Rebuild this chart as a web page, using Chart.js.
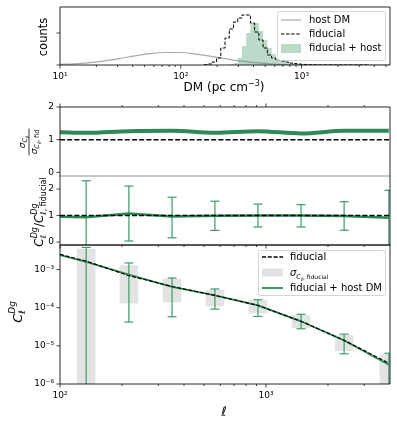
<!DOCTYPE html>
<html><head><meta charset="utf-8">
<script src="https://cdn.jsdelivr.net/npm/chart.js@4.4.1/dist/chart.umd.min.js"></script>
<style>
html,body{margin:0;padding:0;background:#fff;overflow:hidden;}
#wrap{position:relative;width:397px;height:427px;}
#wrap canvas{position:absolute;left:0;top:0;}
</style></head><body>
<div id="wrap">
<canvas id="c1" width="397" height="427"></canvas>
<canvas id="c2" width="397" height="427"></canvas>
<canvas id="c3" width="397" height="427"></canvas>
<canvas id="c4" width="397" height="427"></canvas>
</div>
<script>
// ---------------- DATA ----------------
// Panel 1: DM histograms (bin edges in pc cm^-3, counts in arbitrary units)
const dmEdges = [155.5, 168.5, 182.7, 198.0, 214.6, 232.6, 252.1, 273.3, 296.2, 321.1, 348.0, 377.2, 408.9, 443.2, 480.4, 520.7, 564.4, 611.8, 663.1, 718.8, 779.1, 844.5, 915.4, 992.4, 1075.7, 1166, 1264, 1370];
const fiducialCounts = [0.3, 1, 3, 7, 17, 27, 36, 43, 47, 50, 50, 42, 33, 25, 17, 10, 7, 5, 4, 3, 2, 1.5, 1, 0.6, 0.4, 0.2, 0.1];
const fidHostCounts  = [0, 0, 0, 0, 0, 0.3, 0.8, 2, 7, 19, 32, 42, 42, 34, 25, 17, 11, 6, 4, 3, 2, 1.5, 1, 0.6, 0.4, 0.2, 0.1];
const dmHistEnd = 3500;
const hostDmValues = [10, 13.3, 17.7, 23.6, 31.3, 41.7, 55.5, 73.8, 98, 130, 174, 231, 308, 409, 545, 725, 962, 1700, 5400];
const hostDmCounts = [0.6, 1.2, 2.4, 4.2, 6.5, 9.1, 11.3, 12.5, 12.5, 11.2, 8.9, 6.4, 4.1, 2.3, 1.2, 0.5, 0.2, 0.05, 0];
const dmTicks = [10, 100, 1000];
const countTicks = [0, 32];

// Panels 2-4: multipoles
const ellRange = [100, 4000];
const ellLine = [100, 134, 216, 350, 565, 914, 1480, 2395, 3950];
const sigmaRatio = [1.23, 1.21, 1.26, 1.27, 1.21, 1.26, 1.19, 1.27, 1.27];
const clRatio = [0.95, 0.94, 1.08, 0.96, 0.99, 1.00, 1.00, 0.98, 0.92];
const clFiducial = [2.5e-3, 1.66e-3, 6.9e-4, 3.6e-4, 2.1e-4, 1.15e-4, 4.4e-5, 1.4e-5, 3.5e-6];
const clFidHost = [2.38e-3, 1.58e-3, 7.4e-4, 3.5e-4, 2.1e-4, 1.15e-4, 4.4e-5, 1.38e-5, 3.2e-6];

const ellBins = [134, 216, 350, 565, 914, 1480, 2395, 3950];
const ratioErrLo = [-1, 0.04, 0.16, 0.44, 0.57, 0.57, 0.45, -1];
const ratioErrHi = [2.31, 2.11, 1.69, 1.54, 1.43, 1.41, 1.52, 1.95];
const clErrLo = [1e-8, 4.2e-5, 5.8e-5, 9.2e-5, 5.9e-5, 2.8e-5, 6.2e-6, 1e-8];
const clErrHi = [3.8e-3, 1.49e-3, 6.0e-4, 3.1e-4, 1.62e-4, 6.7e-5, 2.02e-5, 6.4e-6];
const sigmaBoxLo = [1e-8, 1.32e-4, 1.40e-4, 1.10e-4, 7.2e-5, 2.98e-5, 7.5e-6, 1e-8];
const sigmaBoxHi = [3.42e-3, 1.27e-3, 5.66e-4, 2.85e-4, 1.56e-4, 6.27e-5, 1.87e-5, 5.9e-6];

const ellTicks = [100, 1000];
const ratioTicks = [0, 1, 2];
const clTicks = [1e-6, 1e-5, 1e-4, 1e-3];

// ---------------- LAYOUT / STYLE ----------------
const W = 397, H = 427, LEFT = 60, RIGHT = 390;
const P1 = {top: 7, bottom: 65}, P2 = {top: 107, bottom: 176}, P3 = {top: 176, bottom: 245}, P4 = {top: 245, bottom: 384};
const FONT = '"DejaVu Sans", sans-serif';
const GREEN = '#2e8b57';
const GREEN_ERR = '#3d9b6b';
const HIST_FILL = 'rgba(46,139,87,0.32)';
const BOX_GRAY = '#e3e3e3';

const SUP = {'-':'⁻','0':'⁰','1':'¹','2':'²','3':'³','4':'⁴','5':'⁵','6':'⁶','7':'⁷','8':'⁸','9':'⁹'};
function pow10Label(v) {
  const e = Math.round(Math.log10(v));
  return '10' + String(e).split('').map(c => SUP[c]).join('');
}
function logMinors(min, max) {
  const out = [];
  for (let e = Math.floor(Math.log10(min)); e <= Math.ceil(Math.log10(max)); e++)
    for (let m = 2; m <= 9; m++) { const v = m * Math.pow(10, e); if (v > min && v < max) out.push(v); }
  return out;
}
function stepPoints(edges, counts, end) {
  const pts = counts.map((c, i) => ({x: edges[i], y: c}));
  pts.push({x: edges[edges.length - 1], y: 0});
  pts.push({x: end, y: 0});
  return pts;
}
function errPoints(xs, lo, hi) {
  const pts = [];
  xs.forEach((x, i) => { pts.push({x, y: lo[i]}); pts.push({x, y: hi[i]}); pts.push({x, y: null}); });
  return pts;
}
function fnt(p) { return (p.italic ? 'italic ' : '') + p.size + 'px ' + FONT; }
function drawRich(ctx, parts, x, y, rot, align) {
  ctx.save();
  ctx.translate(x, y);
  if (rot) ctx.rotate(rot);
  ctx.textBaseline = 'alphabetic';
  ctx.textAlign = 'left';
  let cursor = 0, prevStart = 0;
  const starts = [];
  for (const p of parts) {
    ctx.font = fnt(p);
    const w = ctx.measureText(p.t).width;
    const s = p.back ? prevStart : cursor;
    starts.push(s);
    cursor = Math.max(cursor, s + w);
    prevStart = s;
  }
  const off = align === 'center' ? -cursor / 2 : (align === 'right' ? -cursor : 0);
  parts.forEach((p, i) => { ctx.font = fnt(p); ctx.fillStyle = p.color || '#000'; ctx.fillText(p.t, off + starts[i], p.dy || 0); });
  ctx.restore();
  return cursor;
}
function seg(ctx, x1, y1, x2, y2, c, w, dash) {
  ctx.save();
  ctx.strokeStyle = c; ctx.lineWidth = w || 0.9;
  ctx.setLineDash(dash || []);
  ctx.beginPath(); ctx.moveTo(x1, y1); ctx.lineTo(x2, y2); ctx.stroke();
  ctx.restore();
}
function legendBox(ctx, x, y, w, h) {
  ctx.save();
  ctx.beginPath();
  if (ctx.roundRect) ctx.roundRect(x, y, w, h, 2); else ctx.rect(x, y, w, h);
  ctx.fillStyle = 'rgba(255,255,255,0.8)'; ctx.fill();
  ctx.strokeStyle = '#d0d0d0'; ctx.lineWidth = 0.9; ctx.stroke();
  ctx.restore();
}
function text(ctx, t, x, y, size, align) {
  ctx.save(); ctx.font = size + 'px ' + FONT; ctx.fillStyle = '#000';
  ctx.textAlign = align || 'left'; ctx.textBaseline = 'middle'; ctx.fillText(t, x, y); ctx.restore();
}

// ---------------- DECORATION PLUGIN (frames, tick marks, labels, legends) ----------------
const DECOR = {
  c1: {
    frame: {top: '#111', bottom: '#111', left: '#111', right: '#111'},
    xTicks: {side: 'bottom', major: dmTicks, minor: logMinors(10, 5400)},
    yTicks: countTicks,
    extra(ctx) {
      drawRich(ctx, [{t: 'counts', size: 11.5}], 47, 37, -Math.PI / 2, 'center');
      drawRich(ctx, [{t: 'DM (pc cm', size: 12}, {t: '−3', size: 8, dy: -5}, {t: ')', size: 12}], 224, 91, 0, 'center');
      legendBox(ctx, 277.5, 11.5, 108, 49);
      seg(ctx, 281, 20, 301, 20, 'rgba(140,140,140,0.75)', 1.2);
      text(ctx, 'host DM', 309, 20, 10);
      seg(ctx, 281, 34, 301, 34, '#000', 1, [3.5, 1.6]);
      text(ctx, 'fiducial', 309, 34, 10);
      ctx.fillStyle = HIST_FILL; ctx.fillRect(281, 44, 20, 9);
      text(ctx, 'fiducial + host', 309, 48.5, 10);
    }
  },
  c2: {
    frame: {top: '#111', bottom: '#888', left: '#111', right: '#111'},
    xTicks: {side: 'top', major: ellTicks, minor: logMinors(100, 4000)},
    yTicks: ratioTicks,
    extra(ctx) {
      ctx.save();
      ctx.translate(29, 142); ctx.rotate(-Math.PI / 2);
      const num = [{t: 'σ', size: 9, italic: true}, {t: 'C', size: 6.5, italic: true, dy: 2}, {t: 'ℓ', size: 5, dy: 4}];
      const den = [{t: 'σ', size: 9, italic: true}, {t: 'C', size: 6.5, italic: true, dy: 2}, {t: 'ℓ', size: 5, dy: 4}, {t: ', fid', size: 6.5, dy: 2}];
      drawRich(ctx, num, 0, -4, 0, 'center');
      const w = drawRich(ctx, den, 0, 8, 0, 'center');
      seg(ctx, -w / 2 - 1, 0, w / 2 + 1, 0, '#000', 0.8);
      ctx.restore();
    }
  },
  c3: {
    frame: {top: null, bottom: '#111', left: '#111', right: '#111'},
    xTicks: {side: 'bottom', major: ellTicks, minor: logMinors(100, 4000)},
    yTicks: ratioTicks,
    extra(ctx) {
      drawRich(ctx, [
        {t: 'C', size: 12, italic: true}, {t: 'Dg', size: 8, italic: true, dy: -6.5}, {t: 'ℓ', size: 8, dy: 3, back: true},
        {t: '/', size: 12},
        {t: 'C', size: 12, italic: true}, {t: 'Dg', size: 8, italic: true, dy: -6.5}, {t: 'ℓ, fiducial', size: 8, dy: 3, back: true}
      ], 43, 212, -Math.PI / 2, 'center');
    }
  },
  c4: {
    frame: {top: '#111', bottom: '#111', left: '#111', right: '#111'},
    xTicks: {side: 'bottom', major: ellTicks, minor: logMinors(100, 4000)},
    yTicks: clTicks,
    extra(ctx) {
      drawRich(ctx, [{t: 'C', size: 13, italic: true}, {t: 'Dg', size: 9, italic: true, dy: -7}, {t: 'ℓ', size: 9, dy: 3, back: true}], 22, 312, -Math.PI / 2, 'center');
      drawRich(ctx, [{t: 'ℓ', size: 13, italic: true}], 224, 416, 0, 'center');
      legendBox(ctx, 258.5, 250.5, 127, 45);
      seg(ctx, 262, 257, 283, 257, '#000', 1.3, [4, 1.8]);
      text(ctx, 'fiducial', 290, 257, 10);
      ctx.fillStyle = BOX_GRAY; ctx.fillRect(262, 268.5, 21, 8);
      drawRich(ctx, [{t: 'σ', size: 10, italic: true}, {t: 'C', size: 6.5, italic: true, dy: 3}, {t: 'ℓ', size: 5, dy: 5}, {t: ', fiducial', size: 6, dy: 3}], 290, 276, 0, 'left');
      seg(ctx, 262, 288, 283, 288, GREEN, 1.8);
      text(ctx, 'fiducial + host DM', 290, 288, 10);
    }
  }
};

Chart.register({
  id: 'decor',
  afterDraw(chart) {
    const o = DECOR[chart.canvas.id];
    if (!o) return;
    const ctx = chart.ctx, a = chart.chartArea;
    const L = a.left, R = a.right, T = a.top, B = a.bottom;
    const xs = chart.scales.x, ys = chart.scales.y;
    ctx.save();
    if (o.xTicks) {
      const t = o.xTicks, y0 = t.side === 'top' ? T : B, dir = t.side === 'top' ? -1 : 1;
      const d = (v, len) => { const px = xs.getPixelForValue(v); seg(ctx, px, y0, px, y0 + dir * len, '#111', 0.8); };
      t.major.forEach(v => d(v, 3.5));
      t.minor.forEach(v => d(v, 2));
    }
    if (o.yTicks) o.yTicks.forEach(v => { const py = ys.getPixelForValue(v); seg(ctx, L, py, L - 3.5, py, '#111', 0.8); });
    const f = o.frame;
    if (f.top) seg(ctx, L, T, R, T, f.top, 0.9);
    if (f.bottom) seg(ctx, L, B, R, B, f.bottom, 0.9);
    if (f.left) seg(ctx, L, T, L, B, f.left, 0.9);
    if (f.right) seg(ctx, R, T, R, B, f.right, 0.9);
    if (o.extra) o.extra(ctx, chart);
    ctx.restore();
  }
});

// ---------------- AXES ----------------
function xAxis(type, min, max, panelBottom, showLabels, tickVals) {
  return {
    type, min, max, bounds: 'data', position: 'bottom',
    grid: {display: false, drawTicks: true, tickLength: 4},
    border: {display: false},
    ticks: {display: showLabels, autoSkip: false, maxRotation: 0, padding: 2, color: '#000',
            font: {family: FONT, size: 9}, callback: v => pow10Label(v)},
    afterBuildTicks: s => { s.ticks = tickVals.map(v => ({value: v})); },
    afterFit: s => { s.height = H - panelBottom; }
  };
}
function yAxis(type, min, max, tickVals, labelFn) {
  return {
    type, min, max, bounds: 'data', position: 'left',
    grid: {display: false, drawTicks: true, tickLength: 4},
    border: {display: false},
    ticks: {display: !!labelFn, autoSkip: false, padding: 2, color: '#000',
            font: {family: FONT, size: 9}, callback: labelFn || (() => '')},
    afterBuildTicks: s => { s.ticks = tickVals.map(v => ({value: v})); },
    afterFit: s => { s.width = LEFT; }
  };
}
function opts(panel, scales) {
  return {
    responsive: false, maintainAspectRatio: false, animation: false, events: [],
    layout: {padding: {left: 0, right: W - RIGHT, top: panel.top, bottom: 0}},
    plugins: {legend: {display: false}, tooltip: {enabled: false}},
    scales
  };
}

// ---------------- CHARTS ----------------
new Chart(document.getElementById('c1'), {
  type: 'line',
  data: {datasets: [
    {data: hostDmValues.map((x, i) => ({x, y: hostDmCounts[i]})), borderColor: 'rgba(140,140,140,0.75)', borderWidth: 1.2,
     pointRadius: 0, cubicInterpolationMode: 'monotone', fill: false, order: 3, clip: 0},
    {data: stepPoints(dmEdges, fidHostCounts, dmHistEnd), borderWidth: 0, borderColor: 'rgba(0,0,0,0)', backgroundColor: HIST_FILL,
     fill: 'origin', stepped: 'before', pointRadius: 0, order: 2, clip: 0},
    {data: stepPoints(dmEdges, fiducialCounts, dmHistEnd), borderColor: '#000', borderWidth: 1, borderDash: [3.5, 1.6],
     stepped: 'before', pointRadius: 0, fill: false, order: 1, clip: 0}
  ]},
  options: opts(P1, {x: xAxis('logarithmic', 10, 5400, P1.bottom, true, dmTicks), y: yAxis('linear', 0, 58, countTicks, null)})
});

new Chart(document.getElementById('c2'), {
  type: 'line',
  data: {datasets: [
    {data: ellRange.map(x => ({x, y: 1})), borderColor: '#000', borderWidth: 1.5, borderDash: [5, 2.2], pointRadius: 0, order: 1, clip: 0},
    {data: ellLine.map((x, i) => ({x, y: sigmaRatio[i]})), borderColor: GREEN, borderWidth: 4, cubicInterpolationMode: 'monotone',
     pointRadius: 0, order: 2, clip: 0}
  ]},
  options: opts(P2, {x: xAxis('logarithmic', 100, 4000, P2.bottom, false, ellTicks), y: yAxis('linear', -0.11, 2, ratioTicks, v => String(v))})
});

new Chart(document.getElementById('c3'), {
  type: 'line',
  data: {datasets: [
    {data: ellRange.map(x => ({x, y: 1})), borderColor: '#000', borderWidth: 1.5, borderDash: [5, 2.2], pointRadius: 0, order: 1, clip: 0},
    {data: ellLine.map((x, i) => ({x, y: clRatio[i]})), borderColor: GREEN, borderWidth: 2.5, pointRadius: 0, order: 2, clip: 0},
    {data: errPoints(ellBins, ratioErrLo, ratioErrHi), borderColor: GREEN_ERR, borderWidth: 1.2, spanGaps: false,
     pointStyle: 'line', pointRadius: 4.5, pointBorderColor: GREEN_ERR, pointBorderWidth: 1.2, order: 3, clip: 0}
  ]},
  options: opts(P3, {x: xAxis('logarithmic', 100, 4000, P3.bottom, false, ellTicks), y: yAxis('linear', -0.11, 2.49, ratioTicks, v => String(v))})
});

new Chart(document.getElementById('c4'), {
  type: 'line',
  data: {datasets: [
    {type: 'bar', data: ellBins.map((x, i) => ({x, y: [sigmaBoxLo[i], sigmaBoxHi[i]]})), backgroundColor: BOX_GRAY, borderWidth: 0,
     barThickness: 18, grouped: false, order: 5, clip: 0},
    {data: errPoints(ellBins, clErrLo, clErrHi), borderColor: GREEN_ERR, borderWidth: 1.2, spanGaps: false,
     pointStyle: 'line', pointRadius: 4.5, pointBorderColor: GREEN_ERR, pointBorderWidth: 1.2, order: 4, clip: 0},
    {data: ellLine.map((x, i) => ({x, y: clFidHost[i]})), borderColor: GREEN, borderWidth: 1.8, pointRadius: 0, order: 3, clip: 0},
    {data: ellLine.map((x, i) => ({x, y: clFiducial[i]})), borderColor: '#000', borderWidth: 1.2, borderDash: [4, 1.8], pointRadius: 0, order: 2, clip: 0}
  ]},
  options: opts(P4, {x: xAxis('logarithmic', 100, 4000, P4.bottom, true, ellTicks), y: yAxis('logarithmic', 1e-6, 4.4e-3, clTicks, v => pow10Label(v))})
});
</script></body></html>
